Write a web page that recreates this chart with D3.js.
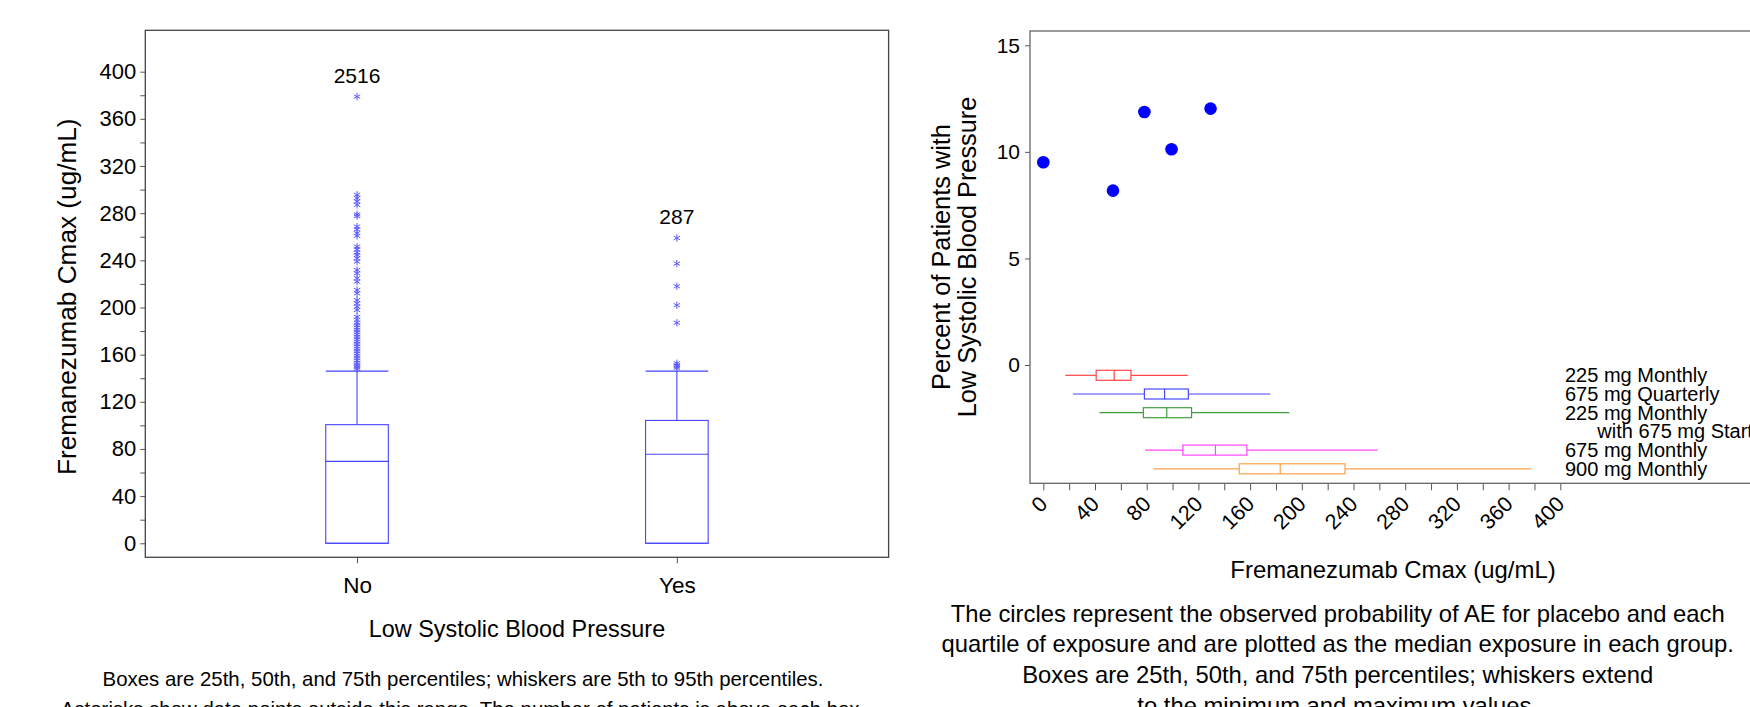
<!DOCTYPE html>
<html>
<head>
<meta charset="utf-8">
<script src="https://cdn.jsdelivr.net/npm/d3@7"></script>
<style>
  body { margin: 0; background: #fff; }
  svg { display: block; font-family: "Liberation Sans", Arial, sans-serif; }
  .domain { display: none; }
</style>
</head>
<body>
<div class="chart"></div>
<script>
// ---- left panel: Cmax by low systolic blood pressure ----
var categories = ['No', 'Yes'];
var patientCounts = [2516, 287];
var p5 = [0, 0];
var q1 = [0, 0];
var medians = [69.5, 75.5];
var q3 = [100.6, 104.2];
var p95 = [146, 146];
var outliersNo = [378.8, 295.6, 292.8, 290, 287, 279, 277.5, 268.6, 266.3, 263, 260.7,
  251.6, 249.3, 246.5, 244.5, 241.7, 238.9, 231.8, 229, 224.8, 221.9, 214.8, 212,
  206.3, 203.5, 200.7, 197.8, 192, 189.5, 187, 185, 183, 181, 179, 177, 175, 173,
  171, 169, 167, 165, 163, 161, 159, 157, 155, 153, 151, 149.5, 148];
var outliersYes = [258.9, 237.2, 218, 201.9, 187, 152.7, 151, 150, 148.8];
var yTicksLeft = d3.range(0, 401, 20);

// ---- right panel: percent with low SBP vs exposure ----
var quartileMedians = [0, 53.9, 78.2, 99.2, 129.4];
var percentLowBP = [9.51, 8.18, 11.87, 10.12, 12.03];
var doseNames = ['225 mg Monthly', '675 mg Quarterly',
  '225 mg Monthly with 675 mg Starting Dose', '675 mg Monthly', '900 mg Monthly'];
var doseMin = [17.0, 22.9, 43.5, 78.7, 85.2];
var doseQ1 = [40.9, 78.2, 77.4, 108.0, 151.6];
var doseMedian = [54.8, 93.8, 95.5, 133.2, 183.3];
var doseQ3 = [67.8, 112.2, 114.7, 157.5, 233.4];
var doseMax = [111.8, 175.6, 190.3, 258.6, 377.6];
var yTicksRight = [0, 5, 10, 15];
var xTicksRight = d3.range(0, 401, 20);

var captionLeft = [
  'Boxes are 25th, 50th, and 75th percentiles; whiskers are 5th to 95th percentiles.',
  'Asterisks show data points outside this range. The number of patients is above each box.'
];
var captionRight = [
  'The circles represent the observed probability of AE for placebo and each',
  'quartile of exposure and are plotted as the median exposure in each group.',
  'Boxes are 25th, 50th, and 75th percentiles; whiskers extend',
  'to the minimum and maximum values.'
];

var doseColor = d3.scaleOrdinal()
  .domain(doseNames)
  .range(['#ff4545', '#4848ff', '#3f9f3f', '#ff45ff', '#ffa24a']);

var svg = d3.select('.chart')
  .append('svg')
    .attr('width', 1750)
    .attr('height', 707);

function styleAxis(g, size) {
  g.attr('font-size', null).attr('font-family', null).attr('color', '#555');
  g.selectAll('text').attr('fill', '#000').attr('font-size', size);
}

// ================= LEFT =================
var L = {left: 145.3, right: 888.6, top: 30.3, bottom: 557.3};

var yL = d3.scaleLinear()
  .domain([-11.9, 435.1])
  .range([L.bottom, L.top]);

var xL = d3.scalePoint()
  .domain(categories)
  .range([L.left, L.right])
  .padding(0.662);

svg.append('g')
    .attr('transform', `translate(${L.left}, 0)`)
  .call(d3.axisLeft(yL).tickValues(yTicksLeft).tickSize(5).tickPadding(4)
    .tickFormat(d => d % 40 === 0 ? d : ''))
  .call(g => styleAxis(g, 22));

svg.append('g')
    .attr('transform', `translate(0, ${L.bottom})`)
  .call(d3.axisBottom(xL).tickSize(6).tickPadding(13.4))
  .call(g => styleAxis(g, 22.5));

svg.append('rect')
  .attr('x', L.left).attr('y', L.top)
  .attr('width', L.right - L.left).attr('height', L.bottom - L.top)
  .attr('fill', 'none').attr('stroke', '#444').attr('stroke-width', 1.3);

var boxHalf = 31.3;
var boxBlue = '#4545ff';

var boxes = svg.selectAll('.boxL')
  .data(categories)
  .enter()
  .append('g')
    .attr('class', 'boxL')
    .attr('stroke', boxBlue)
    .attr('fill', 'none')
    .attr('stroke-width', 1.1);

boxes.append('rect')
  .attr('x', d => xL(d) - boxHalf)
  .attr('y', (d, i) => yL(q3[i]))
  .attr('width', boxHalf * 2)
  .attr('height', (d, i) => yL(q1[i]) - yL(q3[i]));

boxes.append('line')
  .attr('x1', d => xL(d) - boxHalf).attr('x2', d => xL(d) + boxHalf)
  .attr('y1', (d, i) => yL(medians[i])).attr('y2', (d, i) => yL(medians[i]));

// upper whisker + cap
boxes.append('line')
  .attr('x1', d => xL(d)).attr('x2', d => xL(d))
  .attr('y1', (d, i) => yL(q3[i])).attr('y2', (d, i) => yL(p95[i]));
boxes.append('line')
  .attr('x1', d => xL(d) - boxHalf).attr('x2', d => xL(d) + boxHalf)
  .attr('y1', (d, i) => yL(p95[i])).attr('y2', (d, i) => yL(p95[i]));
// lower whisker + cap
boxes.append('line')
  .attr('x1', d => xL(d)).attr('x2', d => xL(d))
  .attr('y1', (d, i) => yL(q1[i])).attr('y2', (d, i) => yL(p5[i]));
boxes.append('line')
  .attr('x1', d => xL(d) - boxHalf).attr('x2', d => xL(d) + boxHalf)
  .attr('y1', (d, i) => yL(p5[i])).attr('y2', (d, i) => yL(p5[i]));

// asterisk markers
var s = 3.7, c30 = Math.cos(Math.PI / 6) * s, s30 = Math.sin(Math.PI / 6) * s;
var asterisk = `M0,${-s}L0,${s}M${-c30},${-s30}L${c30},${s30}M${-c30},${s30}L${c30},${-s30}`;

var outliers = outliersNo.map(v => ({cat: 'No', v: v}))
  .concat(outliersYes.map(v => ({cat: 'Yes', v: v})));

svg.selectAll('.outlier')
  .data(outliers)
  .enter()
  .append('path')
    .attr('class', 'outlier')
    .attr('d', asterisk)
    .attr('transform', d => `translate(${xL(d.cat)}, ${yL(d.v)})`)
    .attr('stroke', '#5a5aff')
    .attr('stroke-width', 1)
    .attr('fill', 'none');

var topValues = [d3.max(outliersNo), d3.max(outliersYes)];
svg.selectAll('.count')
  .data(patientCounts)
  .enter()
  .append('text')
    .attr('class', 'count')
    .attr('x', (d, i) => xL(categories[i]))
    .attr('y', (d, i) => yL(topValues[i]) - 14)
    .attr('text-anchor', 'middle')
    .attr('font-size', 21)
    .text(d => d);

svg.append('text')
  .attr('transform', 'translate(75.5, 296.7) rotate(-90)')
  .attr('text-anchor', 'middle')
  .attr('font-size', 26.2)
  .text('Fremanezumab Cmax (ug/mL)');

svg.append('text')
  .attr('x', (L.left + L.right) / 2)
  .attr('y', 637.3)
  .attr('text-anchor', 'middle')
  .attr('font-size', 23.4)
  .text('Low Systolic Blood Pressure');

svg.selectAll('.capL')
  .data(captionLeft)
  .enter()
  .append('text')
    .attr('class', 'capL')
    .attr('x', 463)
    .attr('y', (d, i) => 685.7 + i * 30.6)
    .attr('text-anchor', 'middle')
    .attr('font-size', 20.4)
    .text(d => d);

// ================= RIGHT =================
var R = {left: 1030, right: 1760, top: 31, bottom: 483.3};

var yR = d3.scaleLinear()
  .domain([-5.55, 15.67])
  .range([R.bottom, R.top]);

var xR = d3.scaleLinear()
  .domain([-10.3, 554.5])
  .range([R.left, R.right]);

svg.append('g')
    .attr('transform', `translate(${R.left}, 0)`)
  .call(d3.axisLeft(yR).tickValues(yTicksRight).tickSize(5).tickPadding(5))
  .call(g => styleAxis(g, 21));

svg.append('g')
    .attr('transform', `translate(0, ${R.bottom})`)
  .call(d3.axisBottom(xR).tickValues(xTicksRight).tickSize(7)
    .tickFormat(d => d % 40 === 0 ? d : ''))
  .call(g => styleAxis(g, 21.5))
  .call(g => g.selectAll('text')
    .attr('x', 0).attr('y', 0).attr('dy', null)
    .attr('text-anchor', 'end')
    .attr('transform', 'translate(5, 22) rotate(-45)'));

svg.append('rect')
  .attr('x', R.left).attr('y', R.top)
  .attr('width', R.right - R.left).attr('height', R.bottom - R.top)
  .attr('fill', 'none').attr('stroke', '#666').attr('stroke-width', 1.3);

svg.selectAll('.dot')
  .data(quartileMedians)
  .enter()
  .append('circle')
    .attr('class', 'dot')
    .attr('cx', d => xR(d))
    .attr('cy', (d, i) => yR(percentLowBP[i]))
    .attr('r', 6.3)
    .attr('fill', '#0000ff');

// one row per legend line; the long name wraps onto a second, indented line
var rowY = d3.scaleLinear().domain([0, 5]).range([375.3, 468.8]);
var legendLines = [];
var doseRow = [];
doseNames.forEach(function(name) {
  var parts = name.split(' with ');
  doseRow.push(legendLines.length);
  legendLines.push({text: parts[0], indent: false});
  if (parts.length > 1) legendLines.push({text: 'with ' + parts[1], indent: true});
});

var dose = svg.selectAll('.boxR')
  .data(doseNames)
  .enter()
  .append('g')
    .attr('class', 'boxR')
    .attr('stroke', d => doseColor(d))
    .attr('fill', 'none')
    .attr('stroke-width', 1.2);

var boxH = 5;
dose.append('line')
  .attr('x1', (d, i) => xR(doseMin[i])).attr('x2', (d, i) => xR(doseQ1[i]))
  .attr('y1', (d, i) => rowY(doseRow[i])).attr('y2', (d, i) => rowY(doseRow[i]));
dose.append('line')
  .attr('x1', (d, i) => xR(doseQ3[i])).attr('x2', (d, i) => xR(doseMax[i]))
  .attr('y1', (d, i) => rowY(doseRow[i])).attr('y2', (d, i) => rowY(doseRow[i]));
dose.append('rect')
  .attr('x', (d, i) => xR(doseQ1[i]))
  .attr('y', (d, i) => rowY(doseRow[i]) - boxH)
  .attr('width', (d, i) => xR(doseQ3[i]) - xR(doseQ1[i]))
  .attr('height', boxH * 2);
dose.append('line')
  .attr('x1', (d, i) => xR(doseMedian[i])).attr('x2', (d, i) => xR(doseMedian[i]))
  .attr('y1', (d, i) => rowY(doseRow[i]) - boxH).attr('y2', (d, i) => rowY(doseRow[i]) + boxH);

svg.selectAll('.legendLine')
  .data(legendLines)
  .enter()
  .append('text')
    .attr('class', 'legendLine')
    .attr('x', d => d.indent ? 1597.3 : 1565)
    .attr('y', (d, i) => rowY(i) + 7)
    .attr('font-size', 20)
    .text(d => d.text);

svg.append('text')
  .attr('transform', 'translate(950, 257) rotate(-90)')
  .attr('text-anchor', 'middle')
  .attr('font-size', 25.3)
  .text('Percent of Patients with');
svg.append('text')
  .attr('transform', 'translate(976, 257) rotate(-90)')
  .attr('text-anchor', 'middle')
  .attr('font-size', 25.3)
  .text('Low Systolic Blood Pressure');

svg.append('text')
  .attr('x', 1393)
  .attr('y', 577.6)
  .attr('text-anchor', 'middle')
  .attr('font-size', 23.9)
  .text('Fremanezumab Cmax (ug/mL)');

svg.selectAll('.capR')
  .data(captionRight)
  .enter()
  .append('text')
    .attr('class', 'capR')
    .attr('x', 1337.7)
    .attr('y', (d, i) => 621.7 + i * 30.7)
    .attr('text-anchor', 'middle')
    .attr('font-size', 23.8)
    .text(d => d);
</script>
</body>
</html>
